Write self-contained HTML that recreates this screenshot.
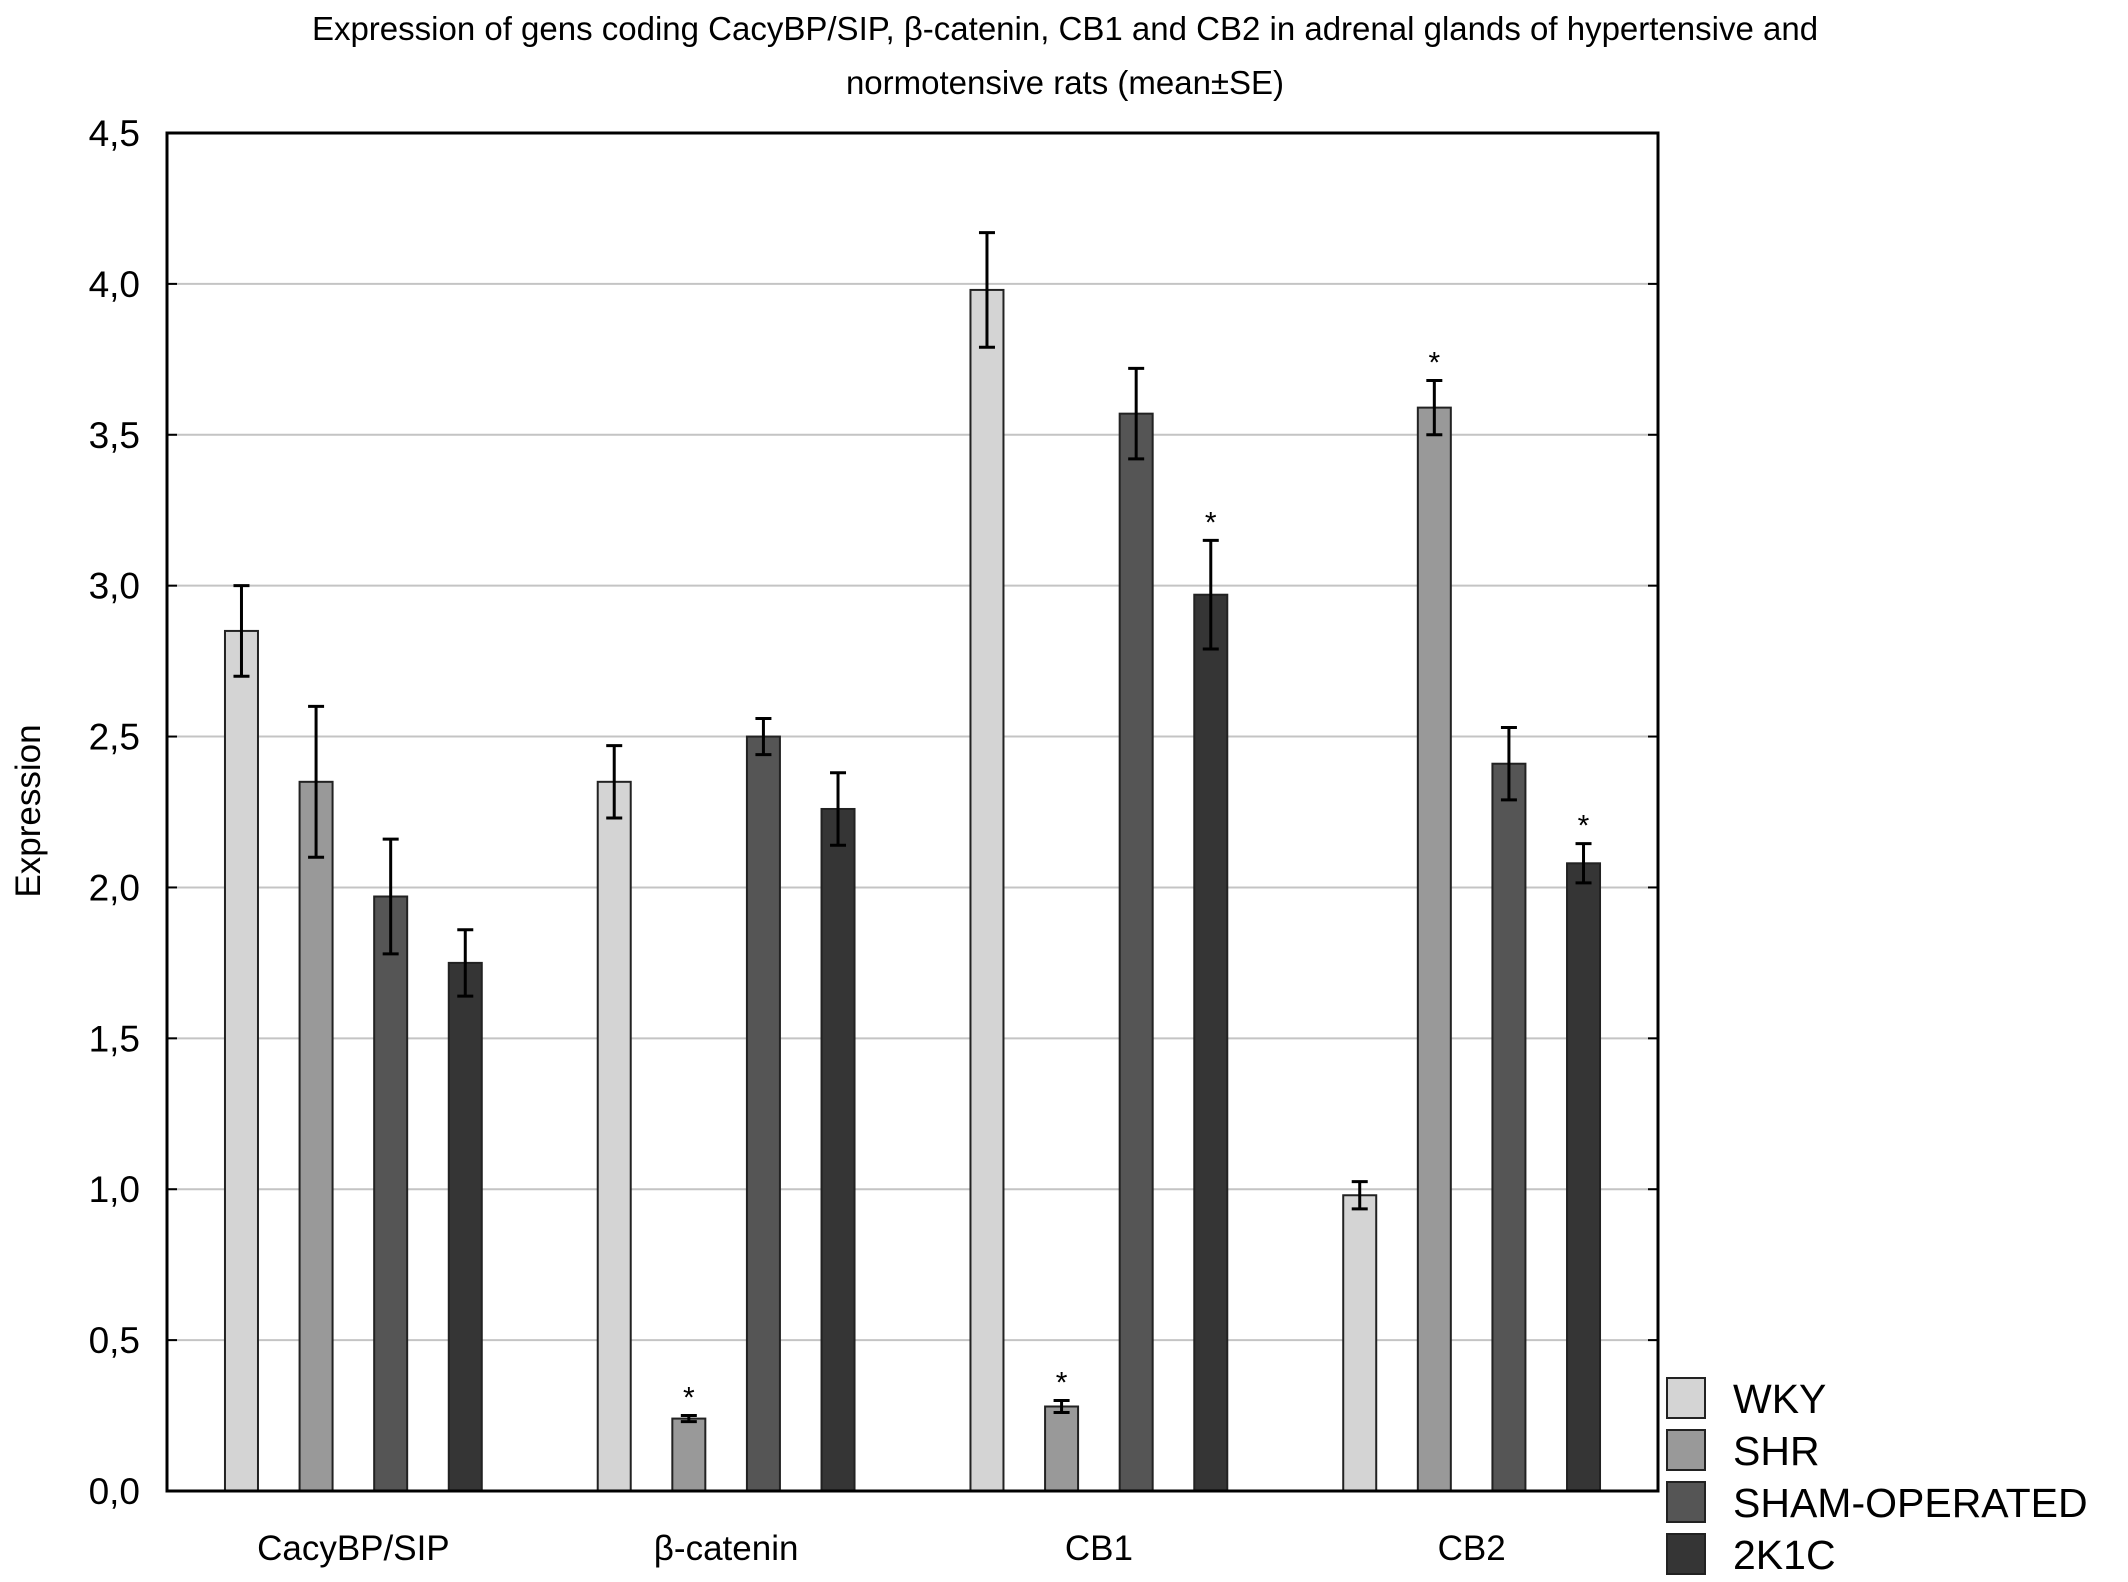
<!DOCTYPE html>
<html><head><meta charset="utf-8"><style>
html,body{margin:0;padding:0;background:#fff;}
svg{display:block;font-family:"Liberation Sans",Arial,sans-serif;}
</style></head><body>
<svg id="chart" width="2128" height="1582" viewBox="0 0 2128 1582">
<text x="1065" y="40" font-size="33" text-anchor="middle">Expression of gens coding CacyBP/SIP, β-catenin, CB1 and CB2 in adrenal glands of hypertensive and</text>
<text x="1065" y="94" font-size="33" text-anchor="middle">normotensive rats (mean±SE)</text>
<text transform="translate(40,811) rotate(-90)" font-size="35" text-anchor="middle">Expression</text>
<g id="grid"></g><g id="bars"></g><g id="axes"></g><g id="legend"></g>
</svg>
<script>
const categories = ["CacyBP/SIP","β-catenin","CB1","CB2"];
const seriesNames = ["WKY","SHR","SHAM-OPERATED","2K1C"];
const wky = [2.85,2.35,3.98,0.98];
const shr = [2.35,0.24,0.28,3.59];
const sham = [1.97,2.50,3.57,2.41];
const k1c = [1.75,2.26,2.97,2.08];
const wkyErr = [0.15,0.12,0.19,0.045];
const shrErr = [0.25,0.01,0.02,0.09];
const shamErr = [0.19,0.06,0.15,0.12];
const k1cErr = [0.11,0.12,0.18,0.065];
const shrStar = [false,true,true,true];
const k1cStar = [false,false,true,true];
const wkyStar = [false,false,false,false];
const shamStar = [false,false,false,false];
const yTicks = [0,0.5,1,1.5,2,2.5,3,3.5,4,4.5];
const yTickLabels = ["0,0","0,5","1,0","1,5","2,0","2,5","3,0","3,5","4,0","4,5"];

const NS="http://www.w3.org/2000/svg";
const L=167,R=1658,T=133,B=1491,yMax=4.5;
const y=v=>B-(v/yMax)*(B-T);
const gw=(R-L)/categories.length;
const gx=i=>L+(i+0.5)*gw;
const colors=["#d4d4d4","#999999","#555555","#353535"];
const series=[wky,shr,sham,k1c], errs=[wkyErr,shrErr,shamErr,k1cErr], stars=[wkyStar,shrStar,shamStar,k1cStar];
const offs=[-1.5,-0.5,0.5,1.5], step=74.6, bw=33;
function mk(tag,attrs,parent){const e=document.createElementNS(NS,tag);for(const k in attrs)e.setAttribute(k,attrs[k]);parent.appendChild(e);return e;}
const grid=document.getElementById('grid'),bars=document.getElementById('bars'),axes=document.getElementById('axes'),leg=document.getElementById('legend');
yTicks.forEach((t,i)=>{
  if(t>0&&t<yMax){const g=mk('line',{x1:L,x2:R,y1:y(t),y2:y(t),stroke:'#c4c4c4','stroke-width':2},grid);
  
  }
  const tk=mk('line',{x1:L,x2:L+10,y1:y(t),y2:y(t),stroke:'#000','stroke-width':2},axes);
  
  
  const tk2=mk('line',{x1:R-10,x2:R,y1:y(t),y2:y(t),stroke:'#000','stroke-width':2},axes);
  
  
  const tl=mk('text',{x:140,y:y(t)+13,'font-size':37,'text-anchor':'end'},axes);
  tl.textContent=yTickLabels[i];
  
  
});
categories.forEach((c,i)=>{
  series.forEach((s,j)=>{
    const cx=gx(i)+offs[j]*step;
    const r=mk('rect',{x:cx-bw/2,y:y(s[i]),width:bw,height:B-y(s[i]),fill:colors[j],stroke:'#222','stroke-width':2},bars);
    
    
    const e=errs[j][i],hi=y(s[i]+e),lo=y(s[i]-e);
    const eb=mk('path',{d:`M${cx},${hi}V${lo}M${cx-8},${hi}H${cx+8}M${cx-8},${lo}H${cx+8}`,stroke:'#000','stroke-width':3,fill:'none'},bars);
    
    
    if(stars[j][i]){const st=mk('text',{x:cx,y:hi-8,'font-size':30,'text-anchor':'middle'},bars);
      st.textContent='*';
      
      }
  });
  const cl=mk('text',{x:gx(i),y:1560,'font-size':35,'text-anchor':'middle'},axes);
  cl.textContent=c;
  
  
});
const frame=mk('rect',{x:L,y:T,width:R-L,height:B-T,fill:'none',stroke:'#000','stroke-width':3},axes);


seriesNames.forEach((n,j)=>{
  const cy=1398+j*52;
  const b=mk('rect',{x:1667,y:cy-20,width:38,height:40,fill:colors[j],stroke:'#222','stroke-width':2},leg);
  
  
  const t=mk('text',{x:1733,y:cy+15,'font-size':41},leg);
  t.textContent=n;
  
  
});
</script>
</body></html>
